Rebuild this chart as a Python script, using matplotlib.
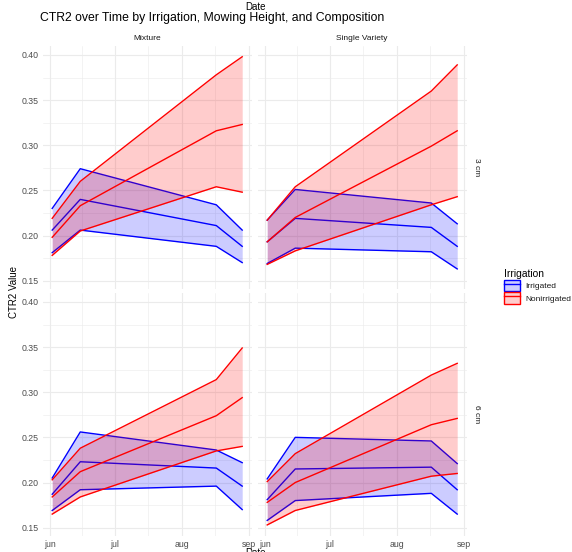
import datetime as dt
import matplotlib
matplotlib.use("Agg")
import matplotlib.pyplot as plt
import matplotlib.dates as mdates
from matplotlib.patches import Patch
from matplotlib.lines import Line2D

plt.rcParams['font.family'] = ['Liberation Sans', 'DejaVu Sans']

# sampling dates
dates = [dt.date(2023, 6, 2), dt.date(2023, 6, 15), dt.date(2023, 8, 17), dt.date(2023, 8, 29)]

compositions = ["Mixture", "Single Variety"]
heights = ["3 cm", "6 cm"]
irrigation = ["Irrigated", "Nonirrigated"]

# Mixture, 3 cm
mix3_irr_lo = [0.181, 0.206, 0.188, 0.170]
mix3_irr_mean = [0.206, 0.240, 0.211, 0.188]
mix3_irr_hi = [0.230, 0.274, 0.234, 0.206]
mix3_non_lo = [0.178, 0.205, 0.254, 0.248]
mix3_non_mean = [0.198, 0.233, 0.316, 0.323]
mix3_non_hi = [0.219, 0.260, 0.378, 0.398]

# Single Variety, 3 cm
sv3_irr_lo = [0.169, 0.186, 0.182, 0.163]
sv3_irr_mean = [0.193, 0.219, 0.209, 0.188]
sv3_irr_hi = [0.217, 0.251, 0.236, 0.213]
sv3_non_lo = [0.168, 0.183, 0.234, 0.243]
sv3_non_mean = [0.193, 0.220, 0.299, 0.316]
sv3_non_hi = [0.217, 0.254, 0.360, 0.389]

# Mixture, 6 cm
mix6_irr_lo = [0.169, 0.192, 0.196, 0.170]
mix6_irr_mean = [0.187, 0.223, 0.216, 0.196]
mix6_irr_hi = [0.205, 0.256, 0.236, 0.222]
mix6_non_lo = [0.165, 0.184, 0.235, 0.240]
mix6_non_mean = [0.184, 0.212, 0.274, 0.294]
mix6_non_hi = [0.203, 0.238, 0.314, 0.349]

# Single Variety, 6 cm
sv6_irr_lo = [0.158, 0.180, 0.188, 0.165]
sv6_irr_mean = [0.181, 0.215, 0.217, 0.192]
sv6_irr_hi = [0.204, 0.250, 0.246, 0.221]
sv6_non_lo = [0.153, 0.169, 0.207, 0.210]
sv6_non_mean = [0.178, 0.200, 0.264, 0.271]
sv6_non_hi = [0.201, 0.232, 0.319, 0.332]

month_ticks = [dt.date(2023, 6, 1), dt.date(2023, 7, 1), dt.date(2023, 8, 1), dt.date(2023, 9, 1)]
month_labels = ["jun", "jul", "aug", "sep"]
y_ticks = [0.15, 0.20, 0.25, 0.30, 0.35, 0.40]

panels = {
    ("3 cm", "Mixture"): [(mix3_irr_lo, mix3_irr_mean, mix3_irr_hi), (mix3_non_lo, mix3_non_mean, mix3_non_hi)],
    ("3 cm", "Single Variety"): [(sv3_irr_lo, sv3_irr_mean, sv3_irr_hi), (sv3_non_lo, sv3_non_mean, sv3_non_hi)],
    ("6 cm", "Mixture"): [(mix6_irr_lo, mix6_irr_mean, mix6_irr_hi), (mix6_non_lo, mix6_non_mean, mix6_non_hi)],
    ("6 cm", "Single Variety"): [(sv6_irr_lo, sv6_irr_mean, sv6_irr_hi), (sv6_non_lo, sv6_non_mean, sv6_non_hi)],
}

colors = {"Irrigated": "#0000ff", "Nonirrigated": "#ff0000"}
text_col = "#4d4d4d"
grid_col = "#ebebeb"

# shared limits, ggplot-style 5% expansion
all_vals = [v for groups in panels.values() for g in groups for s in g for v in s]
ymin, ymax = min(all_vals), max(all_vals)
pad = (ymax - ymin) * 0.05
ylim = (ymin - pad, ymax + pad)
xd = mdates.date2num(dates)
xpad = (xd[-1] - xd[0]) * 0.05
xlim = (xd[0] - xpad, xd[-1] + xpad)

mt = mdates.date2num(month_ticks)
x_minor = [(a + b) / 2 for a, b in zip(mt[:-1], mt[1:])]
y_minor = [(a + b) / 2 for a, b in zip(y_ticks[:-1], y_ticks[1:])]

fig = plt.figure(figsize=(5.72, 5.52), dpi=100)
W, H = 572, 552
col_x = [42.7, 257.7]
col_w = 209.0
row_y = [45.7, 292.7]
row_h = 243.3

for r, h in enumerate(heights):
    for c, comp in enumerate(compositions):
        ax = fig.add_axes([col_x[c] / W, 1 - (row_y[r] + row_h) / H, col_w / W, row_h / H])
        for z, (irr, (lo, mean, hi)) in enumerate(zip(irrigation, panels[(h, comp)])):
            col = colors[irr]
            base = z * 10
            ax.fill_between(dates, lo, hi, color=col, alpha=0.2, linewidth=0, zorder=base + 1)
            ax.plot(dates, lo, color=col, lw=1.0, zorder=base + 2)
            ax.plot(dates, hi, color=col, lw=1.0, zorder=base + 2)
            ax.plot(dates, mean, color=col, lw=1.0, zorder=base + 3)
        ax.set_xlim(xlim)
        ax.set_ylim(ylim)
        ax.set_xticks(mt)
        ax.set_xticks(x_minor, minor=True)
        ax.set_yticks(y_ticks)
        ax.set_yticks(y_minor, minor=True)
        ax.grid(which="major", color=grid_col, lw=0.8)
        ax.grid(which="minor", color=grid_col, lw=0.4)
        ax.set_axisbelow(True)
        for s in ax.spines.values():
            s.set_visible(False)
        ax.tick_params(which="both", length=0, labelsize=6.3, colors=text_col, pad=3)
        if r == 1:
            ax.set_xticklabels(month_labels)
        else:
            ax.set_xticklabels([])
        if c == 0:
            ax.set_yticklabels([f"{v:.2f}" for v in y_ticks])
        else:
            ax.set_yticklabels([])
        if r == 0:
            ax.set_title(comp, fontsize=6.0, color="#1a1a1a", pad=4)
        if c == 1:
            ax.text(1.045, 0.5, h, transform=ax.transAxes, rotation=-90,
                    ha="center", va="center", fontsize=6.0, color="#1a1a1a")

fig.text(40 / W, 1 - 18 / H, "CTR2 over Time by Irrigation, Mowing Height, and Composition",
         fontsize=8.8, ha="left", va="center", color="black")
fig.text(256 / W, 1 - 7.5 / H, "Date", fontsize=7.0, ha="center", va="center", color="black")
fig.text(256 / W, 1 - 548.5 / H, "Date", fontsize=7.0, ha="center", va="top", color="black")
fig.text(14 / W, 1 - 292 / H, "CTR2 Value", fontsize=7.0, rotation=90,
         ha="center", va="center", color="black")

handles = []
for irr in irrigation:
    col = colors[irr]
    handles.append((Patch(facecolor=col, alpha=0.2, edgecolor="none"),
                    Patch(facecolor="none", edgecolor=col, linewidth=1.0),
                    Line2D([], [], color=col, lw=1.0)))
leg = fig.legend(handles, irrigation, title="Irrigation", loc="upper left",
                 bbox_to_anchor=(497 / W, 1 - 262 / H), frameon=False,
                 fontsize=6.0, title_fontsize=7.4, handlelength=1.95, handleheight=1.8,
                 handletextpad=0.7, labelspacing=0.1, alignment="left", borderpad=0.3)
for t in leg.get_texts():
    t.set_color("#1a1a1a")

fig.savefig("out.png", dpi=100)
